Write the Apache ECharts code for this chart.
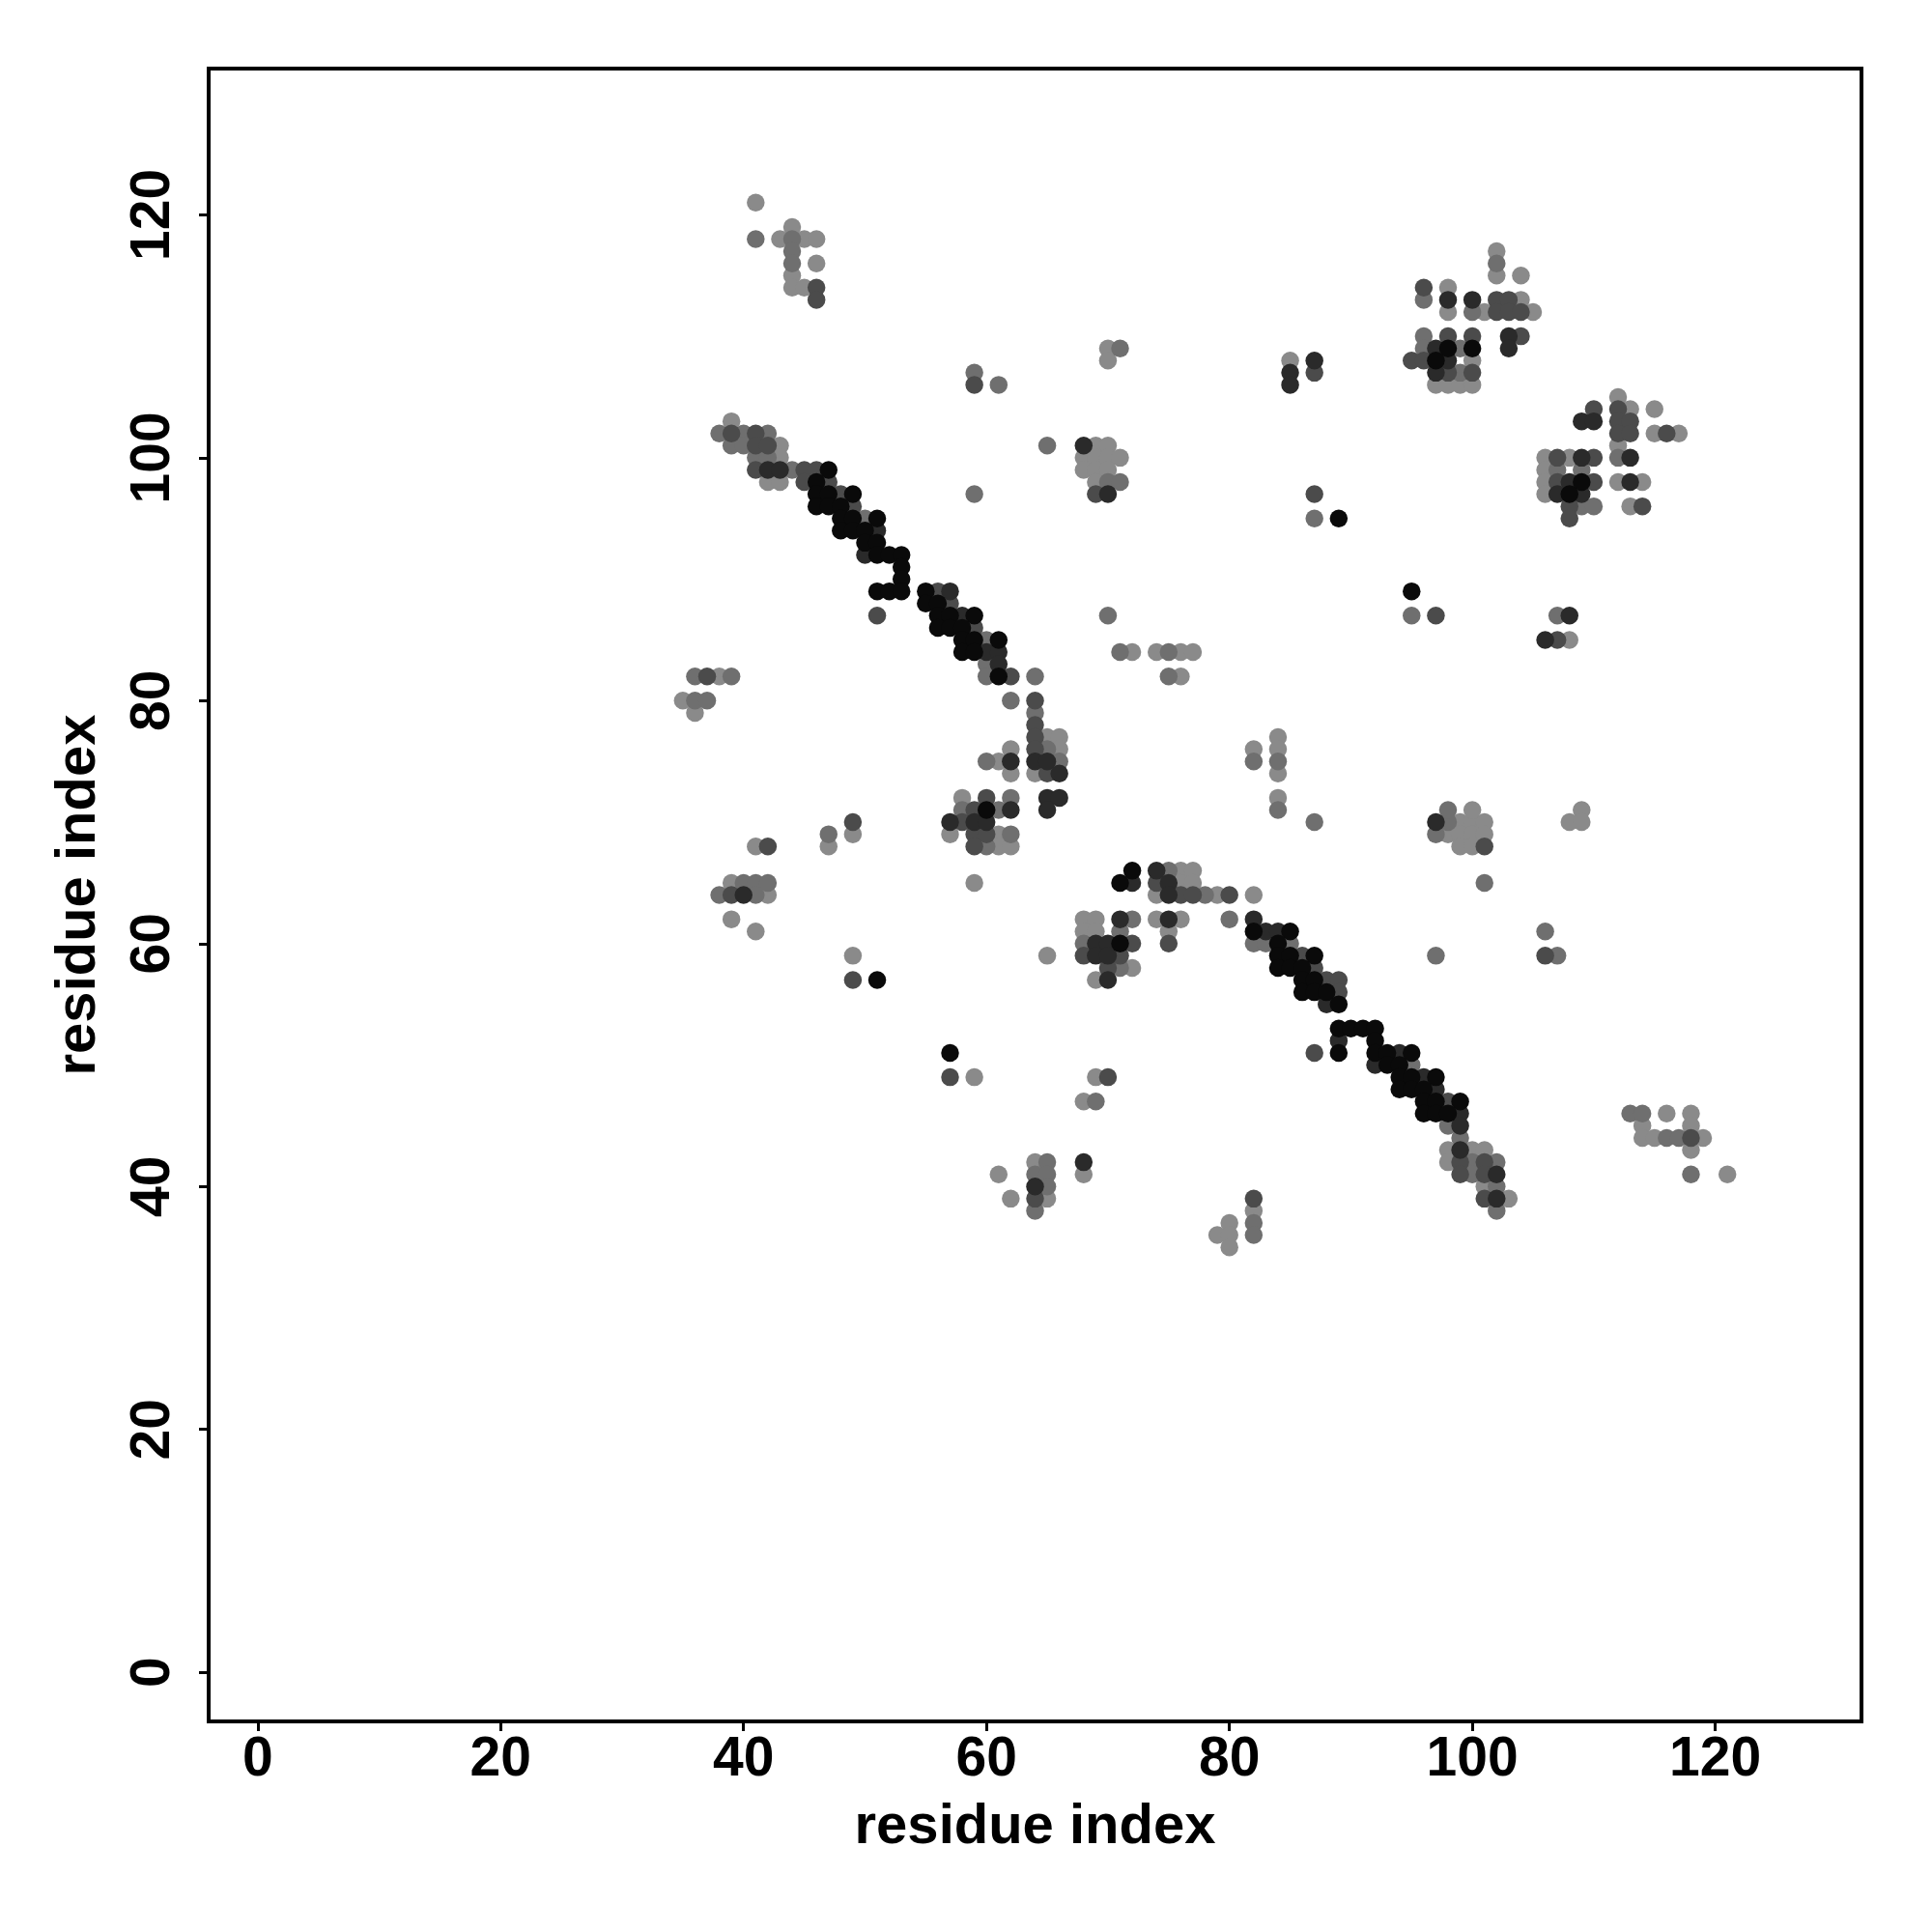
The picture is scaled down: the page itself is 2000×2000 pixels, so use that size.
<!DOCTYPE html>
<html>
<head>
<meta charset="utf-8">
<script src="https://cdn.jsdelivr.net/npm/echarts@6/dist/echarts.min.js"></script>
<style>html,body{margin:0;padding:0;background:#fff}#c{width:2000px;height:2000px}</style>
</head>
<body>
<div id="c"></div>
<script>
const tickValues = [0, 20, 40, 60, 80, 100, 120];
const axisLabel = 'residue index';

const contactsLight = [[41,121],[43,118],[44,119],[45,118],[46,118],[46,116],[44,115],[44,114],[45,114],
[39,103],[43,101],[43,100],[42,98],[43,98],
[65,77],[66,77],[62,76],[66,76],[61,75],[62,74],[64,74],[58,72],[57,69],[61,69],[61,68],[62,68],[59,65],
[38,82],[35,80],[36,79],[41,68],[47,68],[49,69],[39,65],[42,64],[39,62],[41,61],[49,59],[59,49],
[69,101],[70,101],[68,100],[69,100],[70,100],[71,100],[68,99],[69,99],[70,99],[69,98],[70,109],[70,108],
[72,84],[74,84],[76,84],[77,84],[76,82],
[76,66],[77,66],[76,65],[77,65],[74,64],[79,64],[82,64],[68,62],[69,62],[74,62],[76,62],[68,61],[69,61],[75,61],[65,59],[72,58],[69,57],
[69,49],[68,47],[116,46],[118,46],[114,45],[118,45],[114,44],[115,44],[119,44],[98,43],[100,43],[101,43],[118,43],[64,42],[98,42],[61,41],[68,41],[121,41],[101,40],[62,39],[65,39],[103,39],[82,38],[80,37],[79,36],[80,36],[80,35],
[82,76],[84,77],[84,76],[84,74],[84,72],[99,70],[100,70],[101,70],[100,71],[98,69],[99,69],[100,69],[101,69],[99,68],[100,68],[109,71],[108,70],[109,70],[108,85],
[85,108],[102,117],[102,115],[104,115],[98,114],[104,113],[98,112],[101,112],[105,112],[100,108],[97,106],[98,106],[99,106],[100,106],
[112,105],[113,104],[115,104],[115,102],[117,102],[112,101],[106,100],[108,100],[106,99],[106,98],[112,98],[114,98],[106,97],[113,96]];

const contactsMid = [[41,118],[44,118],[44,117],[44,116],
[38,102],[40,102],[42,102],[39,101],[40,101],[41,100],[42,100],[44,99],
[50,95],[60,85],[60,83],[60,82],[64,82],[62,80],[64,79],[65,76],[60,75],[66,75],[62,72],[58,71],[61,71],[62,69],[60,68],
[36,82],[39,82],[36,80],[37,80],[47,69],[40,65],[41,65],[42,65],[38,64],[41,64],
[65,101],[70,98],[71,98],[59,97],[71,109],[59,107],[61,106],
[70,87],[71,84],[75,84],[75,82],
[75,66],[78,64],[72,62],[80,62],[71,61],[68,60],[82,60],[83,60],[85,60],[97,59],[107,59],[71,58],
[95,50],[69,47],[113,46],[114,46],[98,45],[99,44],[116,44],[117,44],[65,42],[100,42],[102,42],[64,41],[65,41],[100,41],[118,41],[65,40],[102,40],[64,38],[102,38],[82,37],[82,36],
[101,65],[106,61],
[82,75],[84,75],[84,71],[87,70],[98,70],[98,71],[97,69],
[87,95],[95,87],[107,87],
[102,116],[96,113],[100,112],[96,110],[96,109],[99,109],[99,107],
[112,100],[107,99],[109,99],[109,96],[110,96]];

const contactsDarkMid = [[46,114],[46,113],
[39,102],[41,102],[41,101],[42,101],[41,99],[45,99],[46,99],[45,98],[47,98],[48,97],[49,96],
[56,89],[57,88],[51,87],[59,86],[62,82],[64,80],[64,78],[64,77],[64,76],[65,74],[60,72],[59,71],[58,70],[59,69],[60,69],[59,68],
[37,82],[42,68],[49,70],[39,64],[49,57],[57,49],
[69,97],[59,106],
[74,65],[76,64],[77,64],[80,64],[72,60],[75,60],[68,59],[71,59],[86,59],[106,59],[70,58],[87,58],[88,57],[89,57],[89,56],
[87,51],[70,49],[98,47],[118,44],[99,42],[101,42],[99,41],[101,41],[64,39],[82,39],[101,39],
[101,68],
[87,97],[97,87],[107,85],
[87,107],[96,114],[102,113],[103,113],[102,112],[103,112],[104,112],[98,110],[100,110],[104,110],[95,108],[96,108],[98,107],[100,107],
[110,104],[112,104],[112,103],[113,103],[112,102],[113,102],[116,102],[107,100],[110,100],[107,98],[110,98],[108,96],[114,96],[108,95]];

const contactsDark = [[42,99],[43,99],[51,94],[50,92],[57,89],[58,87],[60,84],[61,84],[61,83],[62,75],[64,75],[65,75],[66,74],[65,72],[66,72],[62,71],[65,71],[57,70],[59,70],[60,70],
[40,64],
[68,101],[70,97],
[74,66],[72,65],[75,65],[75,64],[71,62],[75,62],[82,62],[83,61],[84,61],[69,60],[70,60],[69,59],[70,59],[70,57],
[88,55],[89,52],[94,51],[92,50],[96,49],[97,48],[99,46],[99,45],[99,43],[68,42],[102,41],[64,40],[102,39],
[97,70],[108,87],[106,85],
[85,107],[85,106],[87,108],[98,113],[100,113],[103,110],[97,109],[103,109],[98,108],[97,107],
[109,103],[110,103],[109,100],[113,100],[108,98],[113,98],[107,97],[109,97]];

const contactsBlack = [[47,99],[46,98],[46,97],[47,97],[49,97],[46,96],[47,96],[48,96],[48,95],[49,95],[51,95],[48,94],[49,94],[50,94],[50,93],[51,93],[51,92],[52,92],[53,92],[53,91],[53,90],[51,89],[52,89],[53,89],[55,89],[55,88],[56,88],[56,87],[57,87],[59,87],[56,86],[57,86],[58,86],[58,85],[59,85],[61,85],[58,84],[59,84],[61,82],[60,71],
[51,57],[57,51],
[72,66],[71,65],[82,61],[85,61],[71,60],[84,60],[84,59],[85,59],[87,59],[84,58],[85,58],[86,58],[86,57],[87,57],[86,56],[87,56],[88,56],[89,55],[89,53],[90,53],[91,53],[92,53],[92,52],[89,51],[92,51],[93,51],[95,51],[93,50],[94,50],[94,49],[95,49],[97,49],[94,48],[95,48],[96,48],[96,47],[97,47],[99,47],[96,46],[97,46],[98,46],
[89,95],[95,89],
[98,109],[100,109],[97,108],
[109,98],[108,97]];

const groups = [
  {data: contactsLight, color: '#8a8a8a'},
  {data: contactsMid, color: '#6f6f6f'},
  {data: contactsDarkMid, color: '#4b4b4b'},
  {data: contactsDark, color: '#2a2a2a'},
  {data: contactsBlack, color: '#0a0a0a'}
];

const font = 'Liberation Sans, Arial, Helvetica, sans-serif';
function axis(isY) {
  return {
    type: 'value', min: -4.04, max: 132.04,
    name: axisLabel, nameLocation: 'middle', nameGap: isY ? 105 : 81,
    nameTextStyle: {fontFamily: font, fontWeight: 'bold', fontSize: 58, color: '#000'},
    axisLine: {show: false, onZero: false},
    splitLine: {show: false},
    axisTick: {show: true, inside: false, length: 10, lineStyle: {color: '#000', width: 3}, customValues: tickValues},
    axisLabel: {show: true, fontFamily: font, fontWeight: 'bold', fontSize: 57, color: '#000',
      margin: isY ? 28 : 12, rotate: isY ? 90 : 0, customValues: tickValues}
  };
}
const chart = echarts.init(document.getElementById('c'), null, {renderer: 'canvas'});
chart.setOption({
  animation: false,
  backgroundColor: '#fff',
  grid: {left: 216, right: 73, top: 71, bottom: 218, show: true, borderColor: '#000', borderWidth: 4, backgroundColor: 'transparent', z: 10},
  xAxis: axis(false),
  yAxis: axis(true),
  series: groups.map(g => ({
    type: 'scatter', data: g.data, symbol: 'circle', symbolSize: 18.5,
    itemStyle: {color: g.color, opacity: 1}, silent: true
  }))
});
</script>
</body>
</html>
